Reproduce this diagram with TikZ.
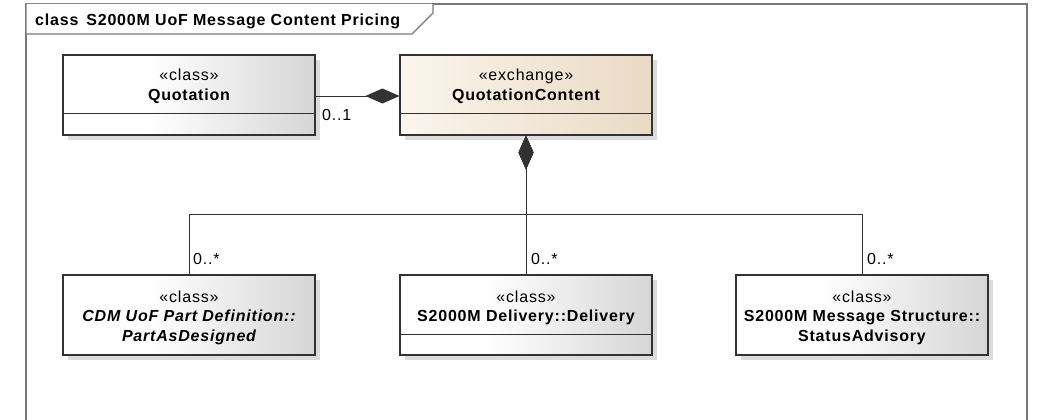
\documentclass[tikz,border=0pt]{standalone}
\usepackage{fontspec}
\setmainfont[LetterSpace=5]{Liberation Sans}
\usetikzlibrary{arrows.meta,shadows}
\definecolor{umlg}{RGB}{214,214,214}
\definecolor{beigeL}{RGB}{251,245,236}
\definecolor{beigeR}{RGB}{234,218,196}
\definecolor{framec}{RGB}{120,120,120}
\definecolor{linec}{RGB}{50,50,50}
\pgfdeclarehorizontalshading{umlgray}{100bp}{color(0bp)=(white); color(42bp)=(white); color(75bp)=(umlg); color(100bp)=(umlg)}
\pgfdeclarehorizontalshading{umlbeige}{100bp}{color(0bp)=(beigeL); color(25bp)=(beigeL); color(75bp)=(beigeR); color(100bp)=(beigeR)}
\tikzset{
  umlbox/.style={draw=linec, line width=1.1pt, rectangle, inner sep=0pt,
    minimum width=252pt, minimum height=80pt, shading=umlgray,
    drop shadow={shadow xshift=5pt, shadow yshift=-5pt, fill=black!28}},
  exbox/.style={umlbox, shading=umlbeige},
  txt/.style={inner sep=0pt, anchor=base, font=\fontsize{16}{19}\selectfont, text=black},
  bname/.style={txt, font=\fontsize{16}{19}\selectfont\bfseries},
  iname/.style={txt, font=\fontsize{16}{19}\selectfont\bfseries\itshape},
  mult/.style={txt, anchor=base west},
  conn/.style={draw=linec, line width=1pt},
  comp/.style={conn, {Diamond[length=34pt,width=15pt]}-}
}
\begin{document}
\begin{tikzpicture}[x=1pt,y=-1pt]
\useasboundingbox (0,0) rectangle (1038,420);
% frame
\draw[framec, line width=1.6pt] (26,430) -- (26,4) -- (1027,4) -- (1027,430);
\draw[framec, line width=1.2pt, fill=white] (26,4) -- (26,34) -- (412,34) -- (433,13) -- (433,4);
\node[bname, anchor=base west] (title) at (35,26) {class\, S2000M UoF Message Content Pricing};

% boxes
\node[umlbox] (quot) at (189,95) {};
\node[exbox] (qc) at (526,95) {};
\node[umlbox] (pad) at (189,315) {};
\node[umlbox] (del) at (526,315) {};
\node[umlbox] (sa) at (862,315) {};

% compartments
\draw[conn] (quot.west |- 0,113) -- (quot.east |- 0,113);
\draw[conn] (qc.west |- 0,113) -- (qc.east |- 0,113);
\draw[conn] (del.west |- 0,334) -- (del.east |- 0,334);

% texts
\node[txt] (quotst) at (189,81) {«class»};
\node[bname] (quotn) at (189,100) {Quotation};
\node[txt] (qcst) at (526,81) {«exchange»};
\node[bname] (qcn) at (526,100) {QuotationContent};
\node[txt] (padst) at (189,302) {«class»};
\node[iname] (padn1) at (189,321) {CDM UoF Part Definition::};
\node[iname] (padn2) at (189,341) {PartAsDesigned};
\node[txt] (delst) at (526,302) {«class»};
\node[bname] (deln) at (526,321) {S2000M Delivery::Delivery};
\node[txt] (sast) at (862,302) {«class»};
\node[bname] (san1) at (862,321) {S2000M Message Structure::};
\node[bname] (san2) at (862,341) {StatusAdvisory};

% connectors
\draw[conn, -{Diamond[length=34pt,width=15pt]}] (quot.east |- 0,96) -- (qc.west |- 0,96);
\draw[comp] (qc.south) -- (526,214) -| (pad.north);
\draw[comp] (qc.south) -- (del.north);
\draw[comp] (qc.south) -- (526,214) -| (sa.north);

% multiplicities
\node[mult] (m1) at (322,120) {0..1};
\node[mult] (m2) at (193,264) {0..*};
\node[mult] (m3) at (531,264) {0..*};
\node[mult] (m4) at (867,264) {0..*};
\end{tikzpicture}
\end{document}
